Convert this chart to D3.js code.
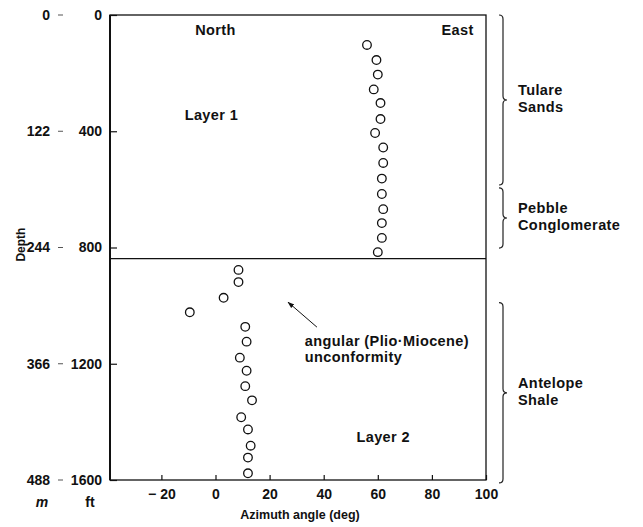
<!DOCTYPE html>
<html><head><meta charset="utf-8">
<script src="https://cdn.jsdelivr.net/npm/d3@7"></script>
<style>
body{margin:0;background:#fff;}
svg{display:block;}
text{font-family:"Liberation Sans",Arial,Helvetica,sans-serif;fill:#111;}
.num{font-family:"Liberation Sans Narrow","Arial Narrow","Liberation Sans",sans-serif;font-weight:bold;font-size:14px;}
.ann{font-weight:bold;font-size:14.5px;letter-spacing:0.4px;}
</style></head>
<body>
<svg id="c" width="643" height="527"></svg>
<script>
// ---- data ----
const upperAngle = [56, 59.5, 60, 58.5, 61, 61, 59, 62, 62, 61.5, 61.5, 62, 61.5, 61.5, 60];
const upperDepth = [103, 155, 205, 256, 303, 358, 406, 456, 509, 563, 616, 668, 716, 767, 816];
const lowerAngle = [8.5, 8.5, 3, -9.5, 11, 11.5, 9, 11.5, 11, 13.5, 9.5, 12, 13, 12, 12];
const lowerDepth = [877, 919, 973, 1023, 1073, 1124, 1179, 1224, 1277, 1326, 1384, 1426, 1482, 1523, 1577];
const ftTicks = [0, 400, 800, 1200, 1600];
const mLabels = ["0", "122", "244", "366", "488"];
const xTicks = [-20, 0, 20, 40, 60, 80, 100];
const unconformityDepth = 838;
const formationNames = [["Tulare", "Sands"], ["Pebble", "Conglomerate"], ["Antelope", "Shale"]];
const formationTop = [0, 595, 990];
const formationBottom = [585, 802, 1610];

// ---- scales ----
const svg = d3.select("#c");
const x = d3.scaleLinear().domain([-39, 100]).range([110, 486]);
const y = d3.scaleLinear().domain([0, 1600]).range([15, 480]);

// frame
svg.append("rect").attr("x", x(-39)).attr("y", y(0))
  .attr("width", x(100) - x(-39)).attr("height", y(1600) - y(0))
  .attr("fill", "none").attr("stroke", "#111").attr("stroke-width", 1.3);
svg.append("line").attr("x1", x(-39)).attr("x2", x(-39)).attr("y1", y(0)).attr("y2", y(1600))
  .attr("stroke", "#111").attr("stroke-width", 2);

// x axis
const xAxis = svg.append("g").attr("transform", `translate(0,${y(1600)})`)
  .call(d3.axisBottom(x).tickValues(xTicks).tickSize(-5).tickPadding(9)
    .tickFormat(d => d < 0 ? "\u2212 " + Math.abs(d) : d));
xAxis.select(".domain").remove();
xAxis.selectAll("line").attr("stroke", "#111").attr("stroke-width", 1.2);
xAxis.selectAll("text").attr("class", "num").attr("fill", "#111");

// y axis (ft)
const yAxis = svg.append("g").attr("transform", `translate(${x(-39)},0)`)
  .call(d3.axisLeft(y).tickValues(ftTicks).tickSize(-7).tickPadding(8).tickFormat(d => d));
yAxis.select(".domain").remove();
yAxis.selectAll("line").attr("stroke", "#111").attr("stroke-width", 1.2);
yAxis.selectAll("text").attr("class", "num").attr("fill", "#111");

// meter labels and dashes
const mg = svg.append("g");
ftTicks.forEach((d, i) => {
  mg.append("text").attr("class", "num").attr("x", 50).attr("y", y(d)).attr("dy", "0.35em")
    .attr("text-anchor", "end").text(mLabels[i]);
  mg.append("line").attr("x1", 58).attr("x2", 63).attr("y1", y(d)).attr("y2", y(d))
    .attr("stroke", "#555").attr("stroke-width", 1);
});
svg.append("text").attr("class", "num").attr("x", 42).attr("y", 507).attr("text-anchor", "middle")
  .style("font-style", "italic").text("m");
svg.append("text").attr("class", "num").attr("x", 90).attr("y", 507).attr("text-anchor", "middle").text("ft");
svg.append("text").attr("class", "num").style("font-size", "12px")
  .attr("transform", `translate(25,${y(790)}) rotate(-90)`).attr("text-anchor", "middle").text("Depth");
svg.append("text").attr("class", "num").style("font-size", "12.5px")
  .attr("x", (x(-39) + x(100)) / 2 + 2).attr("y", 519).attr("text-anchor", "middle").text("Azimuth angle (deg)");

// unconformity line
svg.append("line").attr("x1", x(-39)).attr("x2", x(100)).attr("y1", y(unconformityDepth)).attr("y2", y(unconformityDepth))
  .attr("stroke", "#111").attr("stroke-width", 1.3);

// points
const pts = upperAngle.map((a, i) => [a, upperDepth[i]]).concat(lowerAngle.map((a, i) => [a, lowerDepth[i]]));
svg.append("g").selectAll("circle").data(pts).join("circle")
  .attr("cx", d => x(d[0])).attr("cy", d => y(d[1])).attr("r", 4.3)
  .attr("fill", "none").attr("stroke", "#111").attr("stroke-width", 1.3);

// labels inside
svg.append("text").attr("class", "ann").attr("x", x(0)).attr("y", y(52)).attr("dy", "0.35em").attr("text-anchor", "middle").text("North");
svg.append("text").attr("class", "ann").attr("x", x(89.5)).attr("y", y(52)).attr("dy", "0.35em").attr("text-anchor", "middle").text("East");
svg.append("text").attr("class", "ann").attr("x", x(-1.5)).attr("y", y(344)).attr("dy", "0.35em").attr("text-anchor", "middle").text("Layer 1");
svg.append("text").attr("class", "ann").attr("x", x(62)).attr("y", y(1452)).attr("dy", "0.35em").attr("text-anchor", "middle").text("Layer 2");

// arrow + annotation
svg.append("defs").append("marker").attr("id", "ah").attr("viewBox", "0 0 10 10").attr("refX", 9).attr("refY", 5)
  .attr("markerWidth", 7).attr("markerHeight", 7).attr("orient", "auto")
  .append("path").attr("d", "M0,1.5 L10,5 L0,8.5 Z").attr("fill", "#111");
svg.append("line").attr("x1", x(37.5)).attr("y1", y(1074)).attr("x2", x(26.8)).attr("y2", y(988))
  .attr("stroke", "#111").attr("stroke-width", 1).attr("marker-end", "url(#ah)");
svg.append("text").attr("class", "ann").attr("x", x(33)).attr("y", y(1122)).attr("dy", "0.35em").text("angular (Plio\u00b7Miocene)");
svg.append("text").attr("class", "ann").attr("x", x(33)).attr("y", y(1176)).attr("dy", "0.35em").text("unconformity");

// formation brackets
const bx = 503;
formationNames.forEach((names, i) => {
  const t = y(formationTop[i]), b = y(formationBottom[i]), m = (t + b) / 2;
  const p = `M${bx - 4},${t} Q${bx},${t} ${bx},${t + 4} L${bx},${m - 4} Q${bx},${m} ${bx + 4},${m} Q${bx},${m} ${bx},${m + 4} L${bx},${b - 4} Q${bx},${b} ${bx - 4},${b}`;
  svg.append("path").attr("d", p).attr("fill", "none").attr("stroke", "#222").attr("stroke-width", 1.2);
  names.forEach((n, j) => {
    svg.append("text").attr("class", "ann").attr("x", 518).attr("y", m - 10 + j * 17).attr("dy", "0.35em").text(n);
  });
});
</script>
</body></html>
